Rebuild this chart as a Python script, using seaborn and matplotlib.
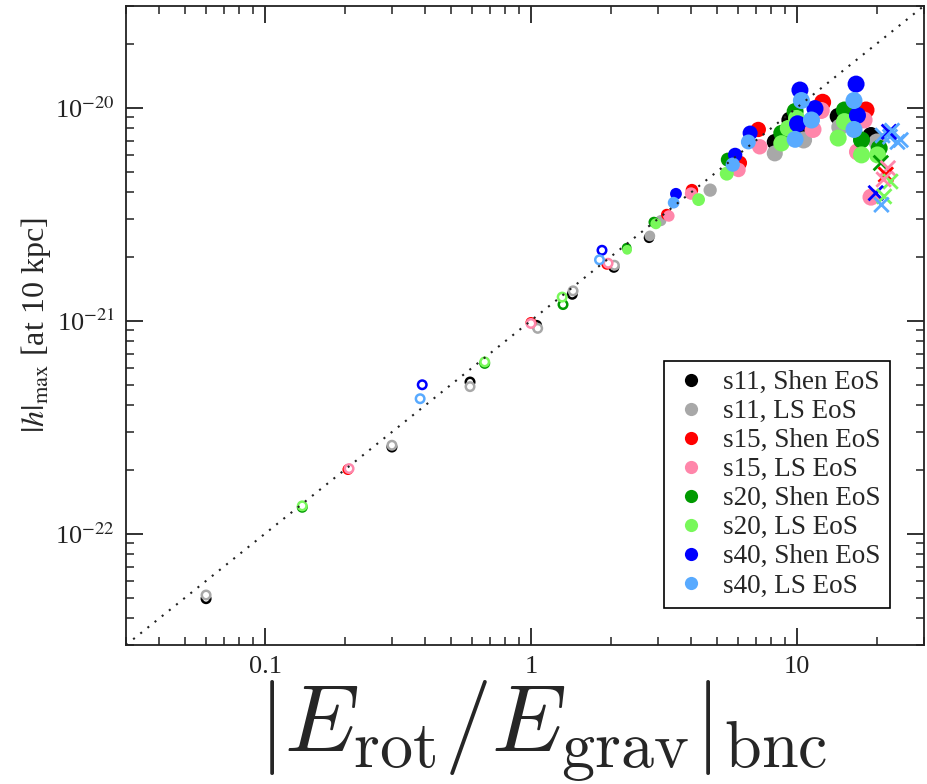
import numpy as np
import pandas as pd
import matplotlib
matplotlib.use("Agg")
import matplotlib.pyplot as plt
import seaborn as sns
from matplotlib.lines import Line2D
from matplotlib.ticker import FixedLocator, LogLocator, NullFormatter, FuncFormatter

# ---------------- data ----------------
models = ["s11, Shen EoS", "s11, LS EoS", "s15, Shen EoS", "s15, LS EoS",
          "s20, Shen EoS", "s20, LS EoS", "s40, Shen EoS", "s40, LS EoS"]
colors = ["#000000", "#a8a8a8", "#ff0000", "#ff86aa",
          "#009a00", "#78f85a", "#0000ff", "#58aaff"]

s11_shen_x = [0.060, 0.30, 0.59, 1.05, 1.43, 2.05, 2.78, 8.26, 9.4, 10.6, 14.3, 19.0]
s11_shen_y = [4.95e-23, 2.55e-22, 5.15e-22, 0.95e-21, 1.33e-21, 1.78e-21, 2.45e-21,
              6.9e-21, 8.75e-21, 7.9e-21, 9.1e-21, 7.4e-21]
s11_ls_x = [0.060, 0.30, 0.59, 1.06, 1.44, 2.06, 2.80, 3.08, 4.72, 8.26, 10.6, 14.5, 20.0]
s11_ls_y = [5.15e-23, 2.6e-22, 4.9e-22, 0.92e-21, 1.38e-21, 1.82e-21, 2.5e-21, 2.95e-21,
            4.1e-21, 6.1e-21, 7.05e-21, 8.1e-21, 6.9e-21]
s15_shen_x = [0.205, 1.00, 1.93, 3.24, 4.03, 6.1, 7.16, 12.5, 18.2]
s15_shen_y = [2.0e-22, 0.98e-21, 1.84e-21, 3.15e-21, 4.1e-21, 5.5e-21, 7.9e-21, 1.06e-20, 9.75e-21]
s15_ls_x = [0.207, 1.00, 1.95, 3.30, 4.00, 6.03, 7.25, 11.5, 12.35, 17.9, 16.9, 19.0]
s15_ls_y = [2.02e-22, 0.97e-21, 1.86e-21, 3.1e-21, 3.95e-21, 5.1e-21, 6.55e-21, 7.9e-21,
            9.7e-21, 8.75e-21, 6.2e-21, 3.8e-21]
s20_shen_x = [0.138, 0.67, 1.32, 2.29, 2.90, 5.5, 8.75, 9.85, 15.1, 17.5, 20.4]
s20_shen_y = [1.33e-22, 0.63e-21, 1.19e-21, 2.2e-21, 2.9e-21, 5.7e-21, 7.6e-21, 9.6e-21,
              9.75e-21, 7.05e-21, 6.45e-21]
s20_ls_x = [0.138, 0.67, 1.31, 2.30, 2.95, 4.27, 5.45, 8.75, 9.97, 9.27, 15.1, 14.3, 17.5, 20.1]
s20_ls_y = [1.35e-22, 0.64e-21, 1.29e-21, 2.15e-21, 2.85e-21, 3.7e-21, 4.9e-21, 6.8e-21,
            8.9e-21, 8.0e-21, 8.6e-21, 7.2e-21, 6.0e-21, 6.0e-21]
s40_shen_x = [0.39, 1.85, 3.51, 5.86, 6.67, 10.27, 11.7, 10.06, 16.7, 16.9]
s40_shen_y = [5.0e-22, 2.14e-21, 3.94e-21, 6.0e-21, 7.6e-21, 1.21e-20, 9.9e-21, 8.4e-21,
              1.29e-20, 9.2e-21]
s40_ls_x = [0.383, 1.81, 3.44, 5.74, 6.57, 10.4, 11.35, 9.85, 16.4, 16.4]
s40_ls_y = [4.3e-22, 1.93e-21, 3.58e-21, 5.4e-21, 6.9e-21, 1.08e-20, 8.75e-21, 7.1e-21,
            1.08e-20, 7.9e-21]

# models shown with crosses
cross_model = ["s40, LS EoS", "s40, LS EoS", "s40, LS EoS", "s40, LS EoS", "s40, Shen EoS",
               "s20, Shen EoS", "s15, LS EoS", "s15, Shen EoS", "s20, LS EoS",
               "s40, Shen EoS", "s20, LS EoS", "s40, LS EoS", "s40, LS EoS", "s15, LS EoS"]
cross_x = [21.0, 22.4, 23.9, 24.6, 22.2, 20.7, 22.0, 21.6, 22.5, 19.8, 21.3, 20.8, 22.8, 21.2]
cross_y = [7.4e-21, 7.3e-21, 6.9e-21, 7.05e-21, 7.7e-21, 5.5e-21, 5.2e-21, 4.85e-21,
           4.5e-21, 3.97e-21, 3.83e-21, 3.5e-21, 7.8e-21, 4.6e-21]

line_x = [0.03, 30.0]
line_y = [3e-23, 3e-20]

x_ticks = [0.1, 1, 10]
x_ticklabels = ["0.1", "1", "10"]
y_ticks = [1e-22, 1e-21, 1e-20]
y_ticklabels = [r"10$^{\mathrm{-22}}$", r"10$^{\mathrm{-21}}$", r"10$^{\mathrm{-20}}$"]

# ---------------- build table ----------------
series = [(s11_shen_x, s11_shen_y), (s11_ls_x, s11_ls_y), (s15_shen_x, s15_shen_y),
          (s15_ls_x, s15_ls_y), (s20_shen_x, s20_shen_y), (s20_ls_x, s20_ls_y),
          (s40_shen_x, s40_shen_y), (s40_ls_x, s40_ls_y)]
rows = []
for m, (xs, ys) in zip(models, series):
    for xv, yv in zip(xs, ys):
        rows.append((m, xv, yv))
df = pd.DataFrame(rows, columns=["model", "x", "y"])
cross_df = pd.DataFrame({"model": cross_model, "x": cross_x, "y": cross_y})
palette = dict(zip(models, colors))

# marker diameter grows with rotation (px)
def diam_px(x):
    x = np.asarray(x, float)
    t = np.clip(np.log10(x / 2.2) / np.log10(10 / 2.2), 0, 1)
    return 9.5 + 7.5 * t

df["area"] = (diam_px(df["x"]) * 0.72) ** 2
hollow = df[df["x"] < 2.2].copy()
filled = df[df["x"] >= 2.2].copy()

# ---------------- style ----------------
sns.set_style("ticks")
plt.rcParams["font.family"] = ["Liberation Serif", "DejaVu Serif"]
plt.rcParams["mathtext.fontset"] = "stix"

fig = plt.figure(figsize=(9.28, 7.84), dpi=100)
ax = fig.add_axes([0.1358, 0.1773, 0.8596, 0.8150])
ax.set_xscale("log")
ax.set_yscale("log")

sns.lineplot(x=line_x, y=line_y, color="#222222", linestyle=(0, (1, 3.4)), lw=1.5, ax=ax)

sns.scatterplot(data=hollow, x="x", y="y", hue="model", hue_order=models, palette=palette,
                s=(8.5 * 0.72) ** 2, linewidth=1.8, legend=False, ax=ax)
coll = ax.collections[-1]
fcs = coll.get_facecolors()
coll.set_edgecolors(fcs)
coll.set_facecolors("white")
coll.set_linewidths(1.8)

amin, amax = filled["area"].min(), filled["area"].max()
sns.scatterplot(data=filled, x="x", y="y", hue="model", hue_order=models, palette=palette,
                size="area", sizes=(amin, amax), size_norm=(amin, amax),
                linewidth=0, legend=False, ax=ax)

sns.scatterplot(data=cross_df, x="x", y="y", hue="model", hue_order=models, palette=palette,
                marker="x", s=110, linewidth=2.0, legend=False, ax=ax)

ax.set_xlim(0.03, 30)
ax.set_ylim(3e-23, 3e-20)

ax.xaxis.set_major_locator(FixedLocator(x_ticks))
ax.xaxis.set_major_formatter(FuncFormatter(lambda v, p: x_ticklabels[x_ticks.index(v)] if v in x_ticks else ""))
ax.xaxis.set_minor_locator(LogLocator(base=10, subs=np.arange(2, 10)))
ax.xaxis.set_minor_formatter(NullFormatter())
ax.yaxis.set_major_locator(FixedLocator(y_ticks))
ax.yaxis.set_major_formatter(FuncFormatter(lambda v, p: y_ticklabels[int(round(np.log10(v))) + 22]))
ax.yaxis.set_minor_locator(LogLocator(base=10, subs=np.arange(2, 10)))
ax.yaxis.set_minor_formatter(NullFormatter())

ax.tick_params(which="both", direction="in", top=True, right=True, colors="#222222")
ax.tick_params(which="major", length=12, width=1.3, labelsize=19, pad=8)
ax.tick_params(which="minor", length=6, width=1.1)
for sp in ax.spines.values():
    sp.set_linewidth(1.3)
    sp.set_color("#222222")

ax.set_xlabel(r"$|E_{\rm rot}/E_{\rm grav}|_{\rm bnc}$", fontsize=68, math_fontfamily="cm")
ax.xaxis.set_label_coords(0.522, -0.052)
ax.set_ylabel(r"$|h|_{\rm max}$ [at 10 kpc]", fontsize=23)
ax.yaxis.set_label_coords(-0.092, 0.50)

handles = [Line2D([], [], marker="o", ls="", markersize=9.5, markeredgewidth=0, color=c)
           for c in colors]
leg = ax.legend(handles, models, loc="lower right", bbox_to_anchor=(0.958, 0.058),
                frameon=True, fancybox=False, edgecolor="black", framealpha=1,
                fontsize=19.5, labelspacing=0.15, handletextpad=0.55, borderpad=0.35,
                handlelength=1.3, borderaxespad=0)
leg.get_frame().set_linewidth(1.2)

fig.savefig("out.png", dpi=100)
